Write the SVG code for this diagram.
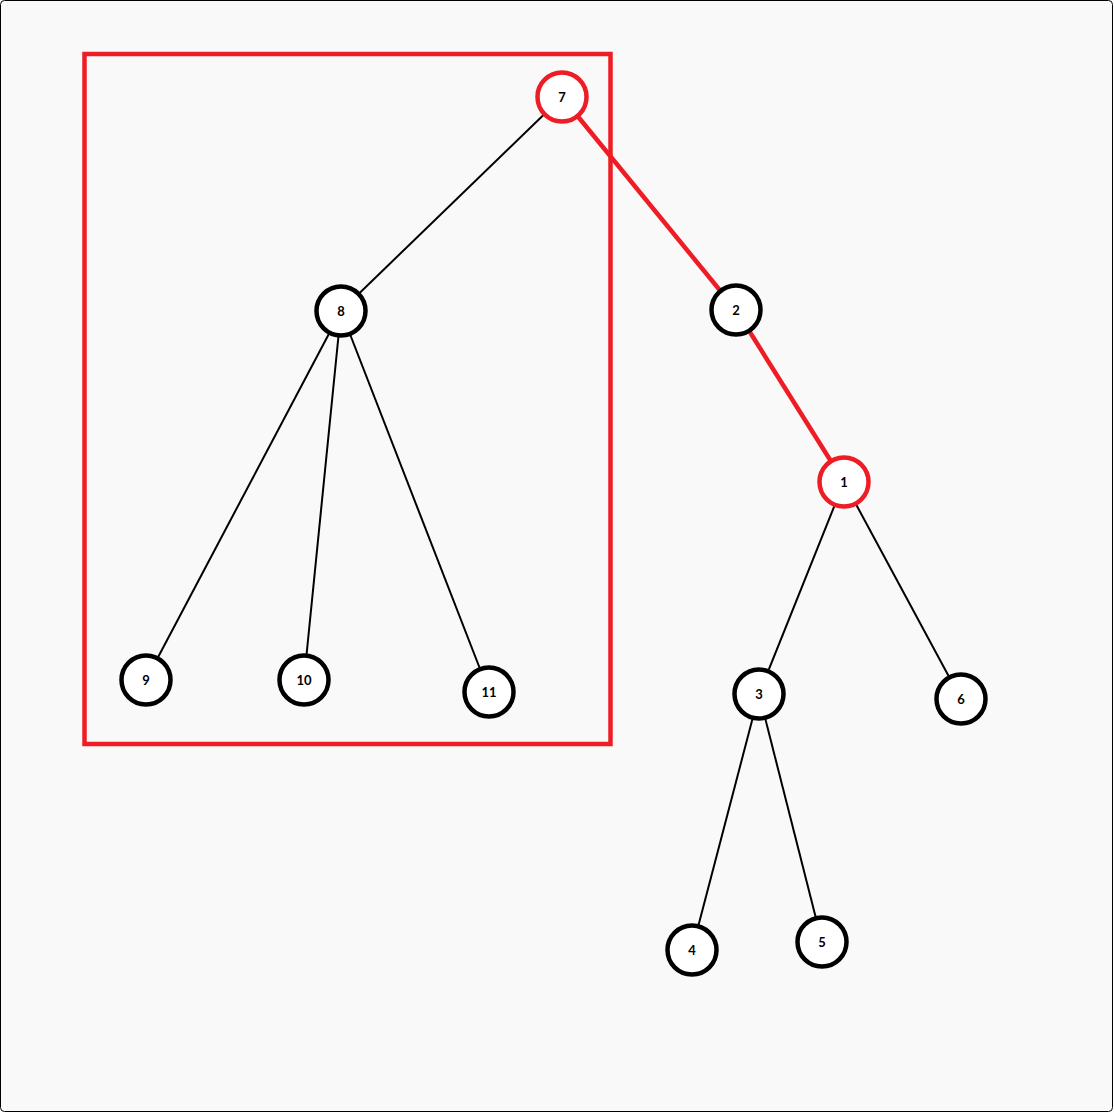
<svg xmlns="http://www.w3.org/2000/svg" width="1114" height="1114" viewBox="0 0 1114 1114">
<style>
.e{stroke:#000;stroke-width:2;fill:none}
.r{stroke:#ee1c25;stroke-width:4.5;fill:none}
.n circle{fill:#fff;stroke:#000;stroke-width:4.5}
.n.hl circle{stroke:#ee1c25}
.n text{font-family:Lato,"Noto Sans",sans-serif;font-weight:bold;font-size:13px;text-anchor:middle;dominant-baseline:central;fill:#000}
</style>
<rect x="0.5" y="0.5" width="1112" height="1111" rx="4" fill="#f9f9f9" stroke="#000" stroke-width="1"/>
<rect id="box" x="84.5" y="54" width="526" height="690" fill="none" stroke="#ee1c25" stroke-width="4.5"/>
<g id="edges">
<line class="e" x1="562" y1="97" x2="341" y2="311"/>
<line class="r" x1="562" y1="97" x2="736" y2="310"/>
<line class="e" x1="341" y1="311" x2="146" y2="680"/>
<line class="e" x1="341" y1="311" x2="304" y2="680"/>
<line class="e" x1="341" y1="311" x2="489" y2="692"/>
<line class="r" x1="736" y1="310" x2="844" y2="482"/>
<line class="e" x1="844" y1="482" x2="759" y2="694"/>
<line class="e" x1="844" y1="482" x2="961" y2="699"/>
<line class="e" x1="759" y1="694" x2="692" y2="950"/>
<line class="e" x1="759" y1="694" x2="822" y2="942"/>
</g>
<g id="n7" class="n hl"><circle cx="562" cy="97" r="24.5"/><text x="562" y="97">7</text></g>
<g id="n8" class="n"><circle cx="341" cy="311" r="24.5"/><text x="341" y="311">8</text></g>
<g id="n2" class="n"><circle cx="736" cy="310" r="24.5"/><text x="736" y="310">2</text></g>
<g id="n1" class="n hl"><circle cx="844" cy="482" r="24.5"/><text x="844" y="482">1</text></g>
<g id="n9" class="n"><circle cx="146" cy="680" r="24.5"/><text x="146" y="680">9</text></g>
<g id="n10" class="n"><circle cx="304" cy="680" r="24.5"/><text x="304" y="680">10</text></g>
<g id="n11" class="n"><circle cx="489" cy="692" r="24.5"/><text x="489" y="692">11</text></g>
<g id="n3" class="n"><circle cx="759" cy="694" r="24.5"/><text x="759" y="694">3</text></g>
<g id="n6" class="n"><circle cx="961" cy="699" r="24.5"/><text x="961" y="699">6</text></g>
<g id="n4" class="n"><circle cx="692" cy="950" r="24.5"/><text x="692" y="950">4</text></g>
<g id="n5" class="n"><circle cx="822" cy="942" r="24.5"/><text x="822" y="942">5</text></g>
</svg>
